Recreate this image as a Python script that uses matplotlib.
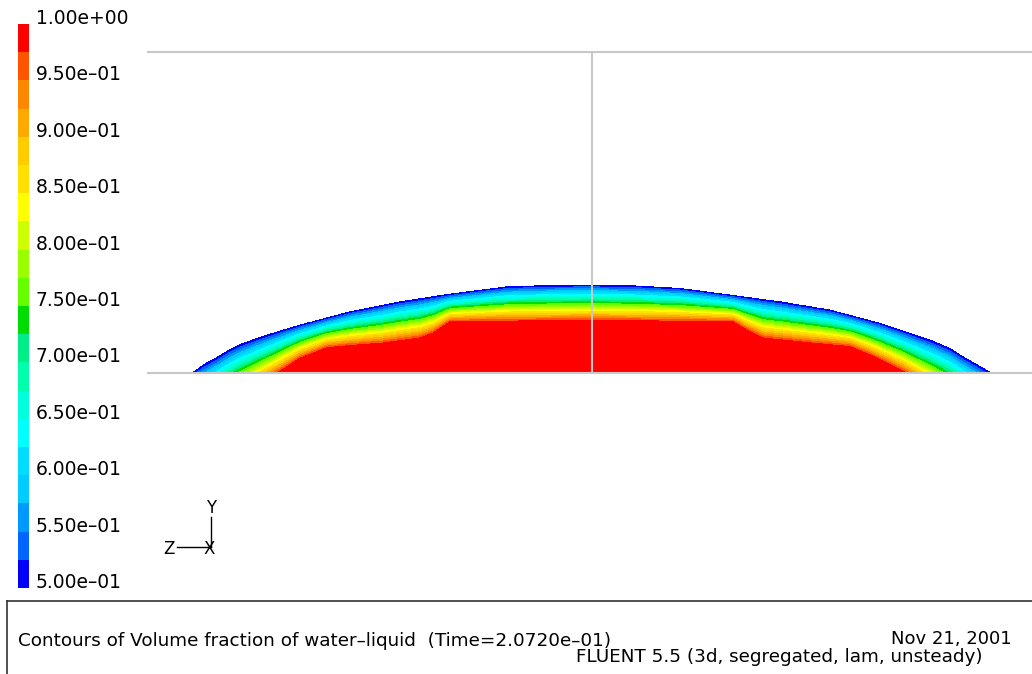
import numpy as np
import matplotlib
matplotlib.use("Agg")
from matplotlib import pyplot as plt
from matplotlib.colors import ListedColormap, BoundaryNorm
from matplotlib.lines import Line2D

# droplet free surface (vof = 0.5), x / height
outer_x = [-4.00, -3.89, -3.75, -3.62, -3.49, -3.25, -2.92, -2.42, -1.92, -1.42, -0.85, -0.42, 0.0,
           0.41, 0.88, 1.38, 1.88, 2.38, 2.88, 3.38, 3.58, 3.71, 4.00]
outer_h = [0.0, 0.083, 0.16, 0.24, 0.30, 0.383, 0.483, 0.616, 0.716, 0.793, 0.866, 0.88, 0.883,
           0.876, 0.85, 0.783, 0.716, 0.633, 0.50, 0.333, 0.25, 0.166, 0.0]

# top of the pure liquid core (vof = 1.0), continued below the wall near the contact line
inner_x = [-4.05, -3.12, -2.92, -2.65, -2.42, -2.09, -1.72, -1.59, -1.42, 0.0,
           1.41, 1.55, 1.71, 2.21, 2.58, 2.78, 3.11, 4.05]
inner_h = [-0.60, 0.0, 0.133, 0.24, 0.26, 0.283, 0.333, 0.383, 0.50, 0.51,
           0.50, 0.416, 0.333, 0.283, 0.25, 0.166, 0.0, -0.60]

# domain edges (wall, top, symmetry plane)
domain_left = -4.44
domain_top = 3.21
plane_x = 0.0

levels = np.linspace(0.5, 1.0, 21)
level_labels = ["1.00e+00", "9.50e–01", "9.00e–01", "8.50e–01", "8.00e–01", "7.50e–01",
                "7.00e–01", "6.50e–01", "6.00e–01", "5.50e–01", "5.00e–01"]
label_values = [1.0, 0.95, 0.9, 0.85, 0.8, 0.75, 0.7, 0.65, 0.6, 0.55, 0.5]

band_colors = ["#0000ff", "#0066ff", "#0099ff", "#00ccff", "#00ddff",
               "#00ffff", "#00ffdd", "#00ffaa", "#00ee88", "#00dd00",
               "#66ff00", "#99ff00", "#ccff00", "#ffff00", "#ffe000",
               "#ffcc00", "#ffaa00", "#ff8800", "#ff5500", "#ff0000"]

title_text = "Contours of Volume fraction of water–liquid  (Time=2.0720e–01)"
date_text = "Nov 21, 2001"
solver_text = "FLUENT 5.5 (3d, segregated, lam, unsteady)"

W, H = 1032, 674
fig = plt.figure(figsize=(W / 100, H / 100), dpi=100)


def fx(px):
    return px / W


def fy(py):
    return 1 - py / H


# vof field between free surface and liquid core
x = np.linspace(-4.1, 4.1, 1400)
y = np.linspace(0.0, 1.0, 400)
X, Y = np.meshgrid(x, y)
h_out = np.interp(x, outer_x, outer_h, left=-1, right=-1)
h_in = np.interp(x, inner_x, inner_h)
thick = np.where(h_out > h_in, h_out - h_in, 1.0)
vof = 0.5 + 0.5 * (h_out[None, :] - Y) / thick[None, :]
vof = np.clip(vof, 0, 1.0)
vof = np.where(Y <= h_out[None, :], vof, 0.0)

cmap = ListedColormap(band_colors)
norm = BoundaryNorm(levels, cmap.N)

ax = fig.add_axes([fx(140), fy(400), (W - 140) / W, 360 / H])
ax.set_xlim(-4.52, 4.40)
ax.set_ylim(-0.267, 3.333)
ax.axis("off")
cf = ax.contourf(X, Y, vof, levels=levels, cmap=cmap, norm=norm)

grey = "#c8c8c8"
ax.plot([domain_left, 5], [0, 0], color=grey, lw=1.5, zorder=3)
ax.plot([domain_left, 5], [domain_top, domain_top], color=grey, lw=1.5, zorder=3)
ax.plot([plane_x, plane_x], [0, domain_top], color=grey, lw=1.5, zorder=3)

# colour bar
cax = fig.add_axes([fx(18), fy(588), 11 / W, 564 / H])
cb = fig.colorbar(cf, cax=cax, ticks=[])
cb.outline.set_visible(False)
cax.minorticks_off()
cax.tick_params(which="both", length=0)
for v, lab in zip(label_values, level_labels):
    cax.text(1.6, v, lab, transform=cax.get_yaxis_transform(), ha="left", va="baseline",
             fontsize=13.5)

# axis triad
fig.add_artist(Line2D([fx(177), fx(211)], [fy(547), fy(547)], color="black", lw=1))
fig.add_artist(Line2D([fx(211), fx(211)], [fy(517), fy(547)], color="black", lw=1))
fig.text(fx(169), fy(549), "Z", ha="center", va="center", fontsize=12)
fig.text(fx(209), fy(549), "X", ha="center", va="center", fontsize=12)
fig.text(fx(211), fy(508), "Y", ha="center", va="center", fontsize=12)

# caption box
fig.add_artist(Line2D([fx(6.5), 1], [fy(600.5), fy(600.5)], color="#333333", lw=1.2))
fig.add_artist(Line2D([fx(6.5), fx(6.5)], [fy(600.5), 0], color="#333333", lw=1.2))
fig.text(fx(18), fy(641), title_text, ha="left", va="center", fontsize=13.2)
fig.text(fx(1012), fy(639), date_text, ha="right", va="center", fontsize=13)
fig.text(fx(983), fy(657), solver_text, ha="right", va="center", fontsize=13.2)

fig.savefig("out.png", dpi=100)
